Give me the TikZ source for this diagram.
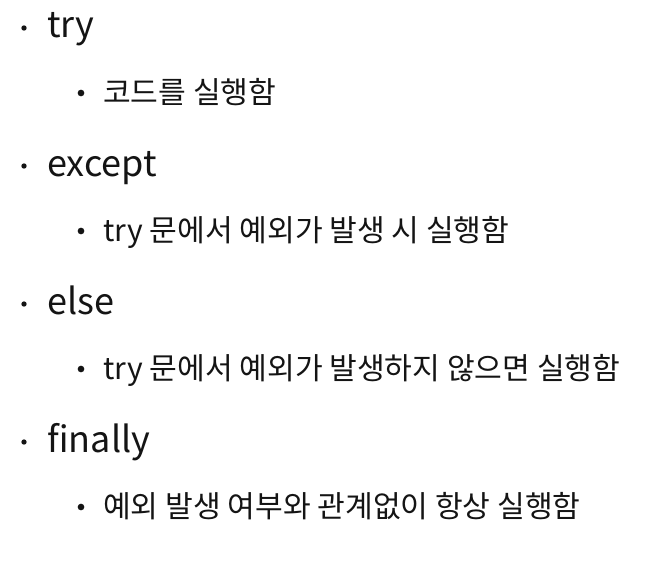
\documentclass[tikz,border=0pt]{standalone}
\usepackage{fontspec}
\setmainfont{Noto Sans CJK KR}
\usepackage{xcolor}
\definecolor{item_black}{RGB}{20,20,20}

\begin{document}
\begin{tikzpicture}[x=0.75pt,y=-0.75pt,
  toptext/.style={anchor=base west,inner sep=0pt,font=\fontsize{27}{32}\selectfont,text=item_black},
  subtext/.style={anchor=base west,inner sep=0pt,font=\fontsize{22.6}{27}\selectfont,text=item_black},
  dotmark/.style={fill=item_black,circle,inner sep=0pt}]
\useasboundingbox (0,0) rectangle (655,560);

\node[dotmark,minimum size=4pt] (dtry) at (24,28) {};
\node[toptext] (try) at (47,38) {try};
\node[dotmark,minimum size=5pt] (dtrysub) at (81,93) {};
\node[subtext] (trysub) at (103,103) {코드를 실행함};

\node[dotmark,minimum size=4pt] (dexcept) at (24,166) {};
\node[toptext] (except) at (47,176) {except};
\node[dotmark,minimum size=5pt] (dexceptsub) at (81,231) {};
\node[subtext] (exceptsub) at (103,241) {try 문에서 예외가 발생 시 실행함};

\node[dotmark,minimum size=4pt] (delse) at (24,304) {};
\node[toptext] (else) at (47,314) {else};
\node[dotmark,minimum size=5pt] (delsesub) at (81,369) {};
\node[subtext] (elsesub) at (103,379) {try 문에서 예외가 발생하지 않으면 실행함};

\node[dotmark,minimum size=4pt] (dfinally) at (24,442) {};
\node[toptext] (finally) at (47,452) {finally};
\node[dotmark,minimum size=5pt] (dfinallysub) at (81,507) {};
\node[subtext] (finallysub) at (103,517) {예외 발생 여부와 관계없이 항상 실행함};

\end{tikzpicture}
\end{document}
